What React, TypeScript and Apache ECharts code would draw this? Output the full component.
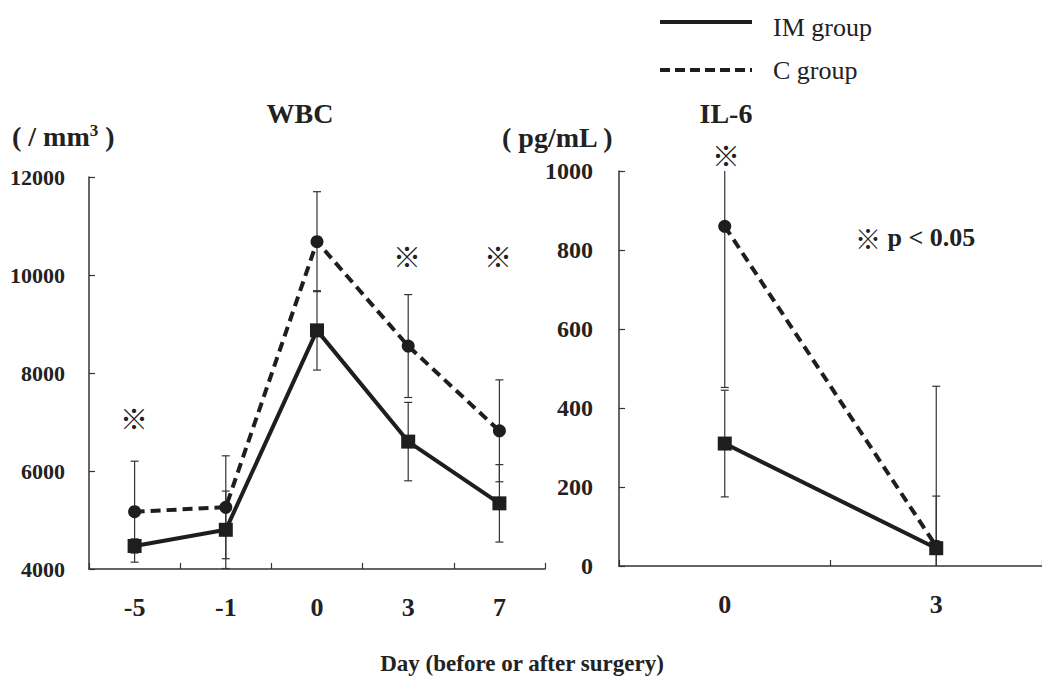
import React, { useEffect, useRef } from "react";
import * as echarts from "echarts";

const wbcDays = ["-5", "-1", "0", "3", "7"];
const wbcIM = [4470, 4800, 8870, 6600, 5340];
const wbcIMsd = [145, 790, 810, 800, 790];
const wbcC = [5170, 5260, 10680, 8550, 6820];
const wbcCsd = [1030, 1050, 1020, 1050, 1040];

const il6Days = ["0", "3"];
const il6IM = [310, 45];
const il6IMsd = [135, 132];
const il6C = [860, 50];
const il6Csd = [408, 405];

const FONT = "'Liberation Serif', 'Times New Roman', serif";
const INK = "#1e1e1e";

function errRender(min: number, max: number) {
  return (params: any, api: any) => {
    const x = api.value(0);
    const m = api.value(1);
    const sd = api.value(2);
    const lo = Math.max(m - sd, min);
    const hi = Math.min(m + sd, max);
    const p1 = api.coord([x, hi]);
    const p2 = api.coord([x, lo]);
    const st = { stroke: "#333", lineWidth: 1.2 };
    const children: any[] = [
      { type: "line", shape: { x1: p1[0], y1: p1[1], x2: p2[0], y2: p2[1] }, style: st },
    ];
    if (m + sd <= max)
      children.push({ type: "line", shape: { x1: p1[0] - 4, y1: p1[1], x2: p1[0] + 4, y2: p1[1] }, style: st });
    if (m - sd >= min)
      children.push({ type: "line", shape: { x1: p2[0] - 4, y1: p2[1], x2: p2[0] + 4, y2: p2[1] }, style: st });
    return { type: "group", children };
  };
}

export default function App() {
  const ref = useRef<HTMLDivElement>(null);
  useEffect(() => {
    document.body.style.margin = "0";
    const chart = echarts.init(ref.current!, undefined, { renderer: "svg" });
    const axisLine = { show: true, lineStyle: { color: "#333", width: 1.5 } };
    const axisTick = { show: true, inside: true, length: 6, lineStyle: { color: "#333", width: 1.2 } };
    const yLabel = { fontFamily: FONT, fontWeight: "bold", color: "#222", formatter: (v: number) => String(v) };
    const xLabel = { fontFamily: FONT, fontWeight: "bold", fontSize: 26, color: "#222", margin: 25 };
    const txt = (x: number, y: number, text: string, size: number, weight = "bold", align = "left") => ({
      type: "text",
      x,
      y,
      style: { text, fontFamily: FONT, fontSize: size, fontWeight: weight, fill: "#222", textAlign: align, textVerticalAlign: "middle" },
    });
    const mark = (x: number, y: number) => ({
      type: "text",
      x,
      y,
      style: { text: "※", fontFamily: "'Noto Sans CJK JP', sans-serif", fontSize: 28, fill: "#222", textAlign: "center", textVerticalAlign: "middle" },
    });
    chart.setOption({
      animation: false,
      backgroundColor: "#fff",
      grid: [
        { left: 89, top: 177, width: 456, height: 392 },
        { left: 619, top: 171, width: 432, height: 395 },
      ],
      xAxis: [
        { type: "category", gridIndex: 0, data: wbcDays, boundaryGap: true, axisLine, axisTick, axisLabel: xLabel },
        { type: "category", gridIndex: 1, data: il6Days, boundaryGap: true, axisLine, axisTick, axisLabel: xLabel },
      ],
      yAxis: [
        { type: "value", gridIndex: 0, min: 4000, max: 12000, interval: 2000, axisLine, axisTick, splitLine: { show: false }, axisLabel: { ...yLabel, fontSize: 22, margin: 24 } },
        { type: "value", gridIndex: 1, min: 0, max: 1000, interval: 200, axisLine, axisTick, splitLine: { show: false }, axisLabel: { ...yLabel, fontSize: 24, margin: 26 } },
      ],
      series: [
        {
          type: "custom", xAxisIndex: 0, yAxisIndex: 0, z: 1,
          renderItem: errRender(4000, 12000),
          data: wbcDays.map((_, i) => [i, wbcC[i], wbcCsd[i]]),
        },
        {
          type: "custom", xAxisIndex: 0, yAxisIndex: 0, z: 1,
          renderItem: errRender(4000, 12000),
          data: wbcDays.map((_, i) => [i, wbcIM[i], wbcIMsd[i]]),
        },
        {
          type: "custom", xAxisIndex: 1, yAxisIndex: 1, z: 1,
          renderItem: errRender(0, 1000),
          data: il6Days.map((_, i) => [i, il6C[i], il6Csd[i]]),
        },
        {
          type: "custom", xAxisIndex: 1, yAxisIndex: 1, z: 1,
          renderItem: errRender(0, 1000),
          data: il6Days.map((_, i) => [i, il6IM[i], il6IMsd[i]]),
        },
        {
          name: "C group", type: "line", xAxisIndex: 0, yAxisIndex: 0, z: 3, data: wbcC,
          symbol: "circle", symbolSize: 13, itemStyle: { color: INK },
          lineStyle: { color: INK, width: 4, type: [10, 6] },
        },
        {
          name: "IM group", type: "line", xAxisIndex: 0, yAxisIndex: 0, z: 4, data: wbcIM,
          symbol: "rect", symbolSize: 14, itemStyle: { color: INK },
          lineStyle: { color: INK, width: 4 },
        },
        {
          name: "C group", type: "line", xAxisIndex: 1, yAxisIndex: 1, z: 3, data: il6C,
          symbol: "circle", symbolSize: 13, itemStyle: { color: INK },
          lineStyle: { color: INK, width: 4, type: [10, 6] },
        },
        {
          name: "IM group", type: "line", xAxisIndex: 1, yAxisIndex: 1, z: 4, data: il6IM,
          symbol: "rect", symbolSize: 14, itemStyle: { color: INK },
          lineStyle: { color: INK, width: 4 },
        },
      ],
      graphic: [
        { type: "line", shape: { x1: 660, y1: 22, x2: 752, y2: 22 }, style: { stroke: INK, lineWidth: 4 } },
        { type: "line", shape: { x1: 660, y1: 70, x2: 752, y2: 70 }, style: { stroke: INK, lineWidth: 4, lineDash: [10, 5] } },
        txt(773, 27, "IM group", 26, "normal"),
        txt(773, 70, "C group", 26, "normal"),
        txt(300, 113, "WBC", 28, "bold", "center"),
        txt(726, 113, "IL-6", 28, "bold", "center"),
        {
          type: "text", x: 12, y: 136,
          style: {
            text: "( / mm{s|3} )",
            fontFamily: FONT, fontSize: 28, fontWeight: "bold", fill: "#222", textVerticalAlign: "middle",
            rich: { s: { fontFamily: FONT, fontSize: 17, fontWeight: "bold", fill: "#222", verticalAlign: "top", padding: [0, 0, 10, 0] } },
          },
        },
        txt(502, 137, "( pg/mL )", 28, "bold"),
        txt(522, 663, "Day (before or after surgery)", 23, "bold", "center"),
        mark(134, 418),
        mark(407, 256),
        mark(498, 256),
        mark(726, 155),
        {
          type: "text", x: 855, y: 237,
          style: {
            text: "{m|※} p < 0.05",
            fontFamily: FONT, fontSize: 26, fontWeight: "bold", fill: "#222", textVerticalAlign: "middle",
            rich: { m: { fontFamily: "'Noto Sans CJK JP', sans-serif", fontSize: 26, fontWeight: "normal", fill: "#222" } },
          },
        },
      ],
    });
    return () => chart.dispose();
  }, []);
  return <div ref={ref} style={{ width: 1042, height: 677 }} />;
}
